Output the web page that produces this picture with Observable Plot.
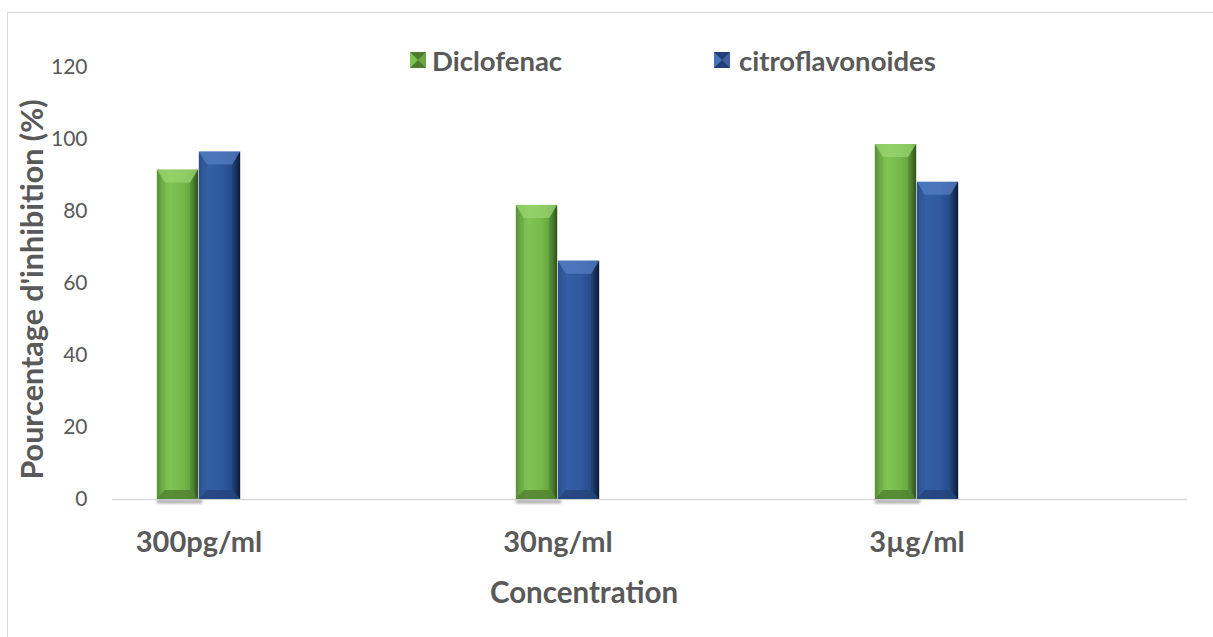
<!DOCTYPE html>
<html>
<head>
<meta charset="utf-8">
<script src="https://cdn.jsdelivr.net/npm/d3@7"></script>
<script src="https://cdn.jsdelivr.net/npm/@observablehq/plot@0.6"></script>
<style>
  html, body { margin: 0; padding: 0; background: #fff; overflow: hidden; }
  #wrap { position: relative; width: 1213px; height: 637px; font-family: Lato, "Open Sans", sans-serif; color: #595959; }
  #border { position: absolute; left: 7px; top: 12px; width: 1400px; height: 900px;
            border-left: 1.5px solid #d9d9d9; border-top: 1.5px solid #d9d9d9; pointer-events: none; }
  .legend-item { position: absolute; top: 47px; font-size: 27.5px; font-weight: 700; line-height: 27.5px; white-space: nowrap; }
  .legend-swatch { position: absolute; top: 52px; width: 16px; height: 16px; }
  #chart svg { display: block; }
</style>
</head>
<body>
<div id="wrap">
  <div id="chart"></div>
  <div id="legend"></div>
  <div id="border"></div>
</div>
<script>
// Inhibition percentages by concentration
const categories = ["300pg/ml", "30ng/ml", "3µg/ml"];
const series = ["Diclofenac", "citroflavonoides"];
const diclofenac = [91.5, 81.7, 98.6];
const citroflavonoides = [96.5, 66.2, 88.1];
const yTicks = [0, 20, 40, 60, 80, 100, 120];
const yTitle = "Pourcentage d'inhibition (%)";
const xTitle = "Concentration";

// Palette per series
const palette = {
  Diclofenac: {id: "gGreen", stops: [["0%", "#5c9637"], ["12%", "#72b449"], ["32%", "#80c455"], ["62%", "#76b94a"], ["86%", "#61a03c"], ["100%", "#365d20"]],
               top: "#9bd673", bottom: "#4f8030", swatchA: "#4c7d2c", swatchB: "#7fc353"},
  citroflavonoides: {id: "gBlue", stops: [["0%", "#2d5393"], ["14%", "#3560a6"], ["55%", "#3059a0"], ["84%", "#264888"], ["100%", "#0d1f40"]],
               top: "#5780c4", bottom: "#24437a", swatchA: "#203f78", swatchB: "#4a72b8"}
};

const rows = categories.flatMap((c, i) => [
  {category: c, series: series[0], value: diclofenac[i]},
  {category: c, series: series[1], value: citroflavonoides[i]}
]);

const W = 1213, H = 637;
const xRange = [17.5, 1096.5];
const bandW = (xRange[1] - xRange[0]) / categories.length;
const barW = 42;

const plot = Plot.plot({
  width: W,
  height: H,
  marginTop: 67,
  marginBottom: 138,
  marginLeft: 112,
  marginRight: 26,
  style: {fontFamily: "Lato, 'Open Sans', sans-serif", color: "#595959", background: "transparent", overflow: "visible"},
  x: {type: "band", domain: categories, range: xRange, padding: 0},
  y: {domain: [0, 120]},
  marks: [
    Plot.ruleY([0], {stroke: "#d9d9d9", strokeWidth: 1.5}),
    Plot.barY(rows.filter(d => d.series === series[0]), {
      x: "category", y: "value", fill: `url(#${palette[series[0]].id})`,
      insetLeft: bandW / 2 - barW, insetRight: bandW / 2
    }),
    Plot.barY(rows.filter(d => d.series === series[1]), {
      x: "category", y: "value", fill: `url(#${palette[series[1]].id})`,
      insetLeft: bandW / 2, insetRight: bandW / 2 - barW
    }),
    Plot.axisY({ticks: yTicks, tickSize: 0, tickPadding: 25, fontSize: 21, fill: "#595959", label: null}),
    Plot.axisX({tickSize: 0, tickPadding: 32, fontSize: 29, fontWeight: "bold", fill: "#595959", label: null}),
    Plot.text([yTitle], {frameAnchor: "left", textAnchor: "middle", text: d => d, rotate: -90, dx: -79, dy: 6,
                         fontSize: 30.5, fontWeight: "bold", fill: "#595959"}),
    Plot.text([xTitle], {frameAnchor: "bottom", textAnchor: "middle", text: d => d, lineAnchor: "middle", dx: -66, dy: 94,
                         fontSize: 29.5, fontWeight: "bold", fill: "#595959"})
  ]
});

// Gradients and the soft shadow filter used by the bars
const svg = d3.select(plot);
const defs = svg.insert("defs", ":first-child");
for (const s of series) {
  const p = palette[s];
  const g = defs.append("linearGradient").attr("id", p.id).attr("x1", "0").attr("x2", "1").attr("y1", "0").attr("y2", "0");
  for (const [o, c] of p.stops) g.append("stop").attr("offset", o).attr("stop-color", c);
}
defs.append("filter").attr("id", "soft").attr("x", "-50%").attr("y", "-200%").attr("width", "200%").attr("height", "500%")
  .append("feGaussianBlur").attr("stdDeviation", 1.4);

// Bevelled faces on every bar
svg.selectAll('g[aria-label="bar"]').each(function(_, gi) {
  const p = palette[series[gi]];
  const g = d3.select(this);
  g.selectAll("rect").each(function() {
    const r = d3.select(this);
    const x = +r.attr("x"), y = +r.attr("y"), w = +r.attr("width"), h = +r.attr("height");
    const sx = 8, tt = 13, bb = 9;
    if (gi === 0) {
      // base shadow under the pair of bars
      d3.select(this.parentNode).insert("rect", ":first-child")
        .attr("x", x).attr("y", y + h + 1.5).attr("width", w + 4).attr("height", 2.5)
        .attr("fill", "#8a8a8a").attr("filter", "url(#soft)");
    }
    const poly = pts => pts.map(q => q.join(",")).join(" ");
    g.append("polygon").attr("points", poly([[x, y], [x + w, y], [x + w - sx, y + tt], [x + sx, y + tt]]))
      .attr("fill", p.top).attr("fill-opacity", 0.7);
    g.append("polygon").attr("points", poly([[x, y], [x + sx, y + tt], [x + sx, y + h - bb], [x, y + h]]))
      .attr("fill", "#000").attr("fill-opacity", 0.05);
    g.append("polygon").attr("points", poly([[x + w, y], [x + w - sx, y + tt], [x + w - sx, y + h - bb], [x + w, y + h]]))
      .attr("fill", "#000").attr("fill-opacity", 0.15);
    g.append("polygon").attr("points", poly([[x, y + h], [x + w, y + h], [x + w - sx, y + h - bb], [x + sx, y + h - bb]]))
      .attr("fill", p.bottom).attr("fill-opacity", 0.8);
  });
});

document.getElementById("chart").appendChild(plot);

// Legend above the bars
const legend = d3.select("#legend");
const legendPos = [{sw: 410, tx: 432}, {sw: 714, tx: 739}];
series.forEach((s, i) => {
  const p = palette[s];
  const sw = legend.append("svg").attr("class", "legend-swatch").style("left", legendPos[i].sw + "px")
    .attr("viewBox", "0 0 16 16");
  sw.append("rect").attr("width", 16).attr("height", 16).attr("fill", p.swatchB);
  sw.append("polygon").attr("points", "0,0 16,0 8,8").attr("fill", p.swatchA);
  sw.append("polygon").attr("points", "0,16 16,16 8,8").attr("fill", p.swatchA);
  sw.append("polygon").attr("points", "16,0 16,16 8,8").attr("fill", "#000").attr("fill-opacity", 0.15);
  legend.append("div").attr("class", "legend-item").style("left", legendPos[i].tx + "px").text(s);
});
</script>
</body>
</html>
